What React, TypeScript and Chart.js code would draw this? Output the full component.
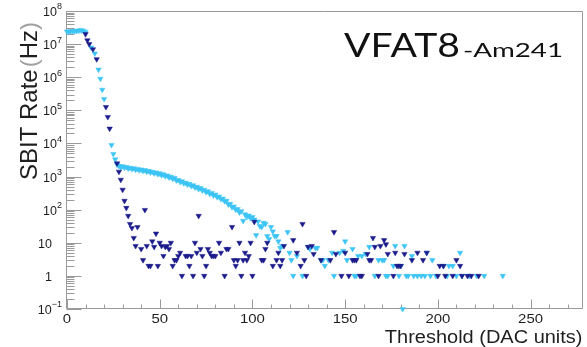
import React, { useEffect, useRef } from "react";
import { Chart, registerables } from "chart.js";

Chart.register(...registerables);

// ---------------- data ----------------
const darkX = [
  10, 11, 12, 14, 16, 21, 22, 23, 27, 28, 29, 30, 31, 32, 33, 34, 35, 36, 37, 38,
  40, 41, 42, 43, 44, 45, 46, 47, 48, 49, 50, 51, 52, 53, 54, 55, 56, 57, 58, 59,
  60, 61, 62, 64, 65, 66, 67, 68, 69, 70, 71, 72, 73, 74, 75, 76, 77, 78, 79, 80,
  82, 83, 85, 86, 87, 89, 90, 91, 92, 93, 94, 95, 96, 97, 98, 99, 100, 101, 105, 106,
  107, 108, 111, 113, 114, 115, 116, 117, 122, 124, 126, 127, 128, 129, 130, 132, 133, 137, 142, 144,
  145, 148, 150, 152, 154, 155, 156, 158, 159, 162, 163, 164, 165, 166, 168, 169, 171, 172, 173, 176,
  177, 178, 179, 180, 182, 186, 189, 192, 194, 200, 201, 203, 204, 208, 210, 212, 213, 216, 218, 222,
];
const darkY = [
  2.0e7, 1.3e7, 1.0e7, 7.0e6, 3.5e6, 1.26e5, 6.3e4, 2.8e4, 2.5e3, 1400, 800, 400, 185, 113, 65, 37, 28, 14, 8, 30,
  6.5, 3, 98, 8, 2, 2, 11, 7.5, 19, 2, 10, 8, 4, 7.5, 8, 6.5, 10, 2, 3, 3,
  4, 5, 1, 4, 4, 2, 4, 1, 10, 5, 65, 6.5, 4, 1, 2, 6.5, 5, 4, 4, 4,
  10, 5, 1, 6.5, 6.5, 30, 3, 2, 3, 10, 1, 3, 5, 3, 4, 10, 1, 43, 3, 3,
  6.5, 10, 2, 3, 5, 2, 3, 8, 12, 5, 2, 37, 3, 1, 7.5, 8, 4.6, 3, 3, 21,
  4.6, 1, 5, 1, 3, 3, 3, 1, 1, 4.6, 3, 3, 14, 7.5, 1, 8, 12, 9, 4.6, 1,
  5, 2, 2, 2, 4.6, 3, 5, 3, 5, 1, 2, 2, 1, 1, 3, 2, 1, 1, 1, 1,
];

const cyanX = [
  0, 1, 2, 3, 4, 5, 6, 7, 8, 9, 10, 13, 15, 17, 18, 19, 20, 24, 25, 26,
  27, 28, 29, 30, 31, 32, 33, 34, 35, 36, 37, 38, 39, 40, 41, 42, 43, 44, 45, 46,
  47, 48, 49, 50, 51, 52, 53, 54, 55, 56, 57, 58, 59, 60, 61, 62, 63, 64, 65, 66,
  67, 68, 69, 70, 71, 72, 73, 74, 75, 76, 77, 78, 79, 80, 81, 82, 83, 84, 85, 86,
  87, 88, 89, 90, 91, 92, 93, 94, 95, 96, 97, 98, 99, 100, 101, 102, 103, 104, 105, 106,
  107, 108, 109, 110, 111, 112, 113, 114, 115, 116, 119, 120, 121, 122, 124, 127, 130, 131, 134, 135,
  137, 138, 139, 141, 143, 144, 147, 149, 150, 151, 154, 155, 156, 157, 159, 161, 163, 166, 168, 170,
  171, 172, 173, 176, 177, 179, 180, 181, 182, 183, 184, 186, 187, 189, 191, 193, 194, 196, 197, 199,
  203, 205, 206, 208, 210, 212, 213, 217, 221, 225, 235,
];
const cyanY = [
  2.4e7, 2.4e7, 2.45e7, 2.45e7, 2.5e7, 2.5e7, 2.55e7, 2.6e7, 2.6e7, 2.5e7, 2.3e7, 7.9e6, 5.2e6, 1.7e6, 9.0e5, 4.2e5, 2.2e5, 9.0e3, 4.8e3, 3.3e3,
  2300, 2100, 1900, 2050, 1850, 1950, 1750, 1850, 1700, 1780, 1620, 1700, 1550, 1640, 1480, 1560, 1400, 1480, 1330, 1400,
  1260, 1330, 1190, 1250, 1100, 1170, 1030, 1080, 950, 990, 860, 900, 760, 790, 690, 720, 630, 650, 570, 600,
  520, 545, 470, 490, 420, 450, 380, 400, 340, 360, 300, 320, 270, 285, 240, 250, 210, 215, 180, 185,
  145, 150, 120, 125, 100, 105, 82, 90, 46, 72, 60, 66, 55, 60, 50, 17, 44, 32, 30, 40,
  37, 16, 13, 30, 22, 16, 16, 11, 7, 8, 21, 5, 3, 1, 4, 1, 7.5, 6.5, 7, 7,
  3, 3, 2, 3, 5, 1, 5, 5.7, 11, 3, 6.5, 1, 1, 4, 4, 4.6, 7.5, 1, 3, 3,
  3, 1, 1, 2, 8, 1, 2, 0.1, 8, 1, 1, 4, 1, 1, 1, 1, 5, 1, 3, 1,
  2, 1, 2, 2, 1, 5, 1, 1, 1, 1, 1,
];

const xTickValues = [0, 50, 100, 150, 200, 250];
const xMinorValues = [0, 10, 20, 30, 40, 50, 60, 70, 80, 90, 100, 110, 120, 130, 140, 150, 160, 170, 180, 190, 200, 210, 220, 230, 240, 250, 260, 270];
const yDecades = [-1, 0, 1, 2, 3, 4, 5, 6, 7, 8];
const yTickBase = ["10", "1", "10", "10", "10", "10", "10", "10", "10", "10"];
const yTickExp = ["\u22121", "", "", "2", "3", "4", "5", "6", "7", "8"];
const yTitleParts = ["SBIT Rate", "(", "Hz", ")"];
const xTitle = "Threshold (DAC units)";
const titleMain = "VFAT8";
const titleSub = "-Am241";

const X_MIN = 0;
const X_MAX = 278;
const Y_MIN = 0.1;
const Y_MAX = 1e8;

const DARK = "#1b1b8c";
const CYAN = "#3cc4f5";
const AXIS = "#9a9a9a";
const TEXT = "#1e1e1e";
const SANS = "'Liberation Sans', Arial, Helvetica, sans-serif";
const TITLE_FONT = "Lato, 'Open Sans', sans-serif";

function textAt(ctx: any, text: string, x: number, y: number, align: string, sx = 1) {
  ctx.save();
  ctx.translate(x, y);
  ctx.scale(sx, 1);
  ctx.textAlign = align;
  ctx.fillText(text, 0, 0);
  ctx.restore();
}

function textFit(ctx: any, text: string, x: number, y: number, width: number) {
  const w = ctx.measureText(text).width;
  textAt(ctx, text, x, y, "left", width / w);
}

const rootAxes = {
  id: "rootAxes",
  beforeDatasetsDraw(chart: any) {
    const { ctx, chartArea: a, scales } = chart;
    const xs = scales.x;
    const ys = scales.y;
    const L = Math.round(a.left) - 0.5;
    const R = Math.round(a.right) - 0.5;
    const T = Math.round(a.top) + 0.5;
    const B = Math.round(a.bottom) - 0.5;
    ctx.save();
    ctx.lineWidth = 1;
    ctx.strokeStyle = AXIS;
    ctx.beginPath();
    ctx.moveTo(L, T);
    ctx.lineTo(R, T);
    ctx.lineTo(R, B);
    ctx.lineTo(L, B);
    ctx.closePath();
    ctx.stroke();
    ctx.beginPath();
    yDecades.forEach((e, i) => {
      const py = Math.round(ys.getPixelForValue(Math.pow(10, e))) + 0.5;
      ctx.moveTo(L, py);
      ctx.lineTo(L + 15, py);
      if (i < yDecades.length - 1) {
        for (let m = 2; m <= 9; m++) {
          const pm = Math.round(ys.getPixelForValue(m * Math.pow(10, e))) + 0.5;
          ctx.moveTo(L, pm);
          ctx.lineTo(L + 8, pm);
        }
      }
    });
    xMinorValues.forEach((v) => {
      const px = Math.round(xs.getPixelForValue(v)) + 0.5;
      const len = xTickValues.includes(v) ? 9 : 4;
      ctx.moveTo(px, B);
      ctx.lineTo(px, B - len);
    });
    ctx.stroke();
    ctx.restore();
  },
  afterDraw(chart: any) {
    const { ctx, chartArea: a, scales } = chart;
    const xs = scales.x;
    const ys = scales.y;
    ctx.save();
    ctx.fillStyle = TEXT;
    ctx.textBaseline = "middle";
    // x tick labels
    ctx.font = `13px ${SANS}`;
    xTickValues.forEach((v) => {
      textAt(ctx, String(v), xs.getPixelForValue(v), a.bottom + 10.5, "center", 1.15);
    });
    // y tick labels
    yDecades.forEach((e, i) => {
      const py = ys.getPixelForValue(Math.pow(10, e)) + 1.5;
      const base = yTickBase[i];
      const exp = yTickExp[i];
      if (exp) {
        ctx.font = `9px ${SANS}`;
        const wE = ctx.measureText(exp).width;
        ctx.font = `12.5px ${SANS}`;
        const right = a.left - 5;
        textAt(ctx, base, right - wE, py, "right");
        ctx.font = `9px ${SANS}`;
        textAt(ctx, exp, right - wE, py - 5.5, "left");
      } else {
        ctx.font = `12.5px ${SANS}`;
        textAt(ctx, base, a.left - 15, py, "right");
      }
    });
    // x axis title
    ctx.textBaseline = "alphabetic";
    ctx.font = `18px ${SANS}`;
    textAt(ctx, xTitle, a.right, a.bottom + 34, "right", 1.11);
    // y axis title (rotated)
    ctx.save();
    ctx.translate(a.left - 30, a.top + 169);
    ctx.rotate(-Math.PI / 2);
    ctx.font = `24px ${SANS}`;
    ctx.textAlign = "left";
    let cx = 0;
    yTitleParts.forEach((p, i) => {
      const isParen = p === "(" || p === ")";
      ctx.fillStyle = isParen ? "#a0a0a0" : TEXT;
      if (i === 1) cx += 2;
      ctx.fillText(p, cx, 0);
      cx += ctx.measureText(p).width;
    });
    ctx.restore();
    // title (fitted to its box)
    ctx.fillStyle = "#111";
    const tx = a.left + 277;
    const ty = a.top + 46;
    ctx.font = `33px ${TITLE_FONT}`;
    textFit(ctx, titleMain, tx, ty, 116);
    ctx.font = `20px ${TITLE_FONT}`;
    textFit(ctx, titleSub, tx + 119, ty, 100);
    ctx.restore();
  },
};

export default function App() {
  const ref = useRef<HTMLCanvasElement | null>(null);
  useEffect(() => {
    if (!ref.current) return;
    const mk = (label: string, xs: number[], ys: number[], color: string) =>
      ({
        label,
        data: xs.map((x, i) => ({ x, y: ys[i] })),
        pointStyle: "triangle",
        pointRotation: 180,
        pointRadius: 3.1,
        pointBorderWidth: 0.5,
        pointBackgroundColor: color,
        pointBorderColor: color,
        backgroundColor: color,
        borderColor: color,
        clip: false,
      } as any);
    const chart = new Chart(ref.current, {
      type: "scatter",
      data: {
        datasets: [mk("dark", darkX, darkY, DARK), mk("cyan", cyanX, cyanY, CYAN)],
      },
      options: {
        animation: false,
        responsive: false,
        devicePixelRatio: 1,
        events: [],
        layout: { padding: { left: 67, right: 4, top: 11, bottom: 38 } },
        plugins: { legend: { display: false }, tooltip: { enabled: false } },
        scales: {
          x: { type: "linear", min: X_MIN, max: X_MAX, display: false },
          y: { type: "logarithmic", min: Y_MIN, max: Y_MAX, display: false },
        },
      } as any,
      plugins: [rootAxes as any],
    });
    return () => chart.destroy();
  }, []);
  return (
    <div style={{ position: "fixed", left: 0, top: 0, width: 587, height: 347, background: "#fff" }}>
      <canvas ref={ref} width={587} height={347} style={{ width: 587, height: 347, display: "block" }} />
    </div>
  );
}
